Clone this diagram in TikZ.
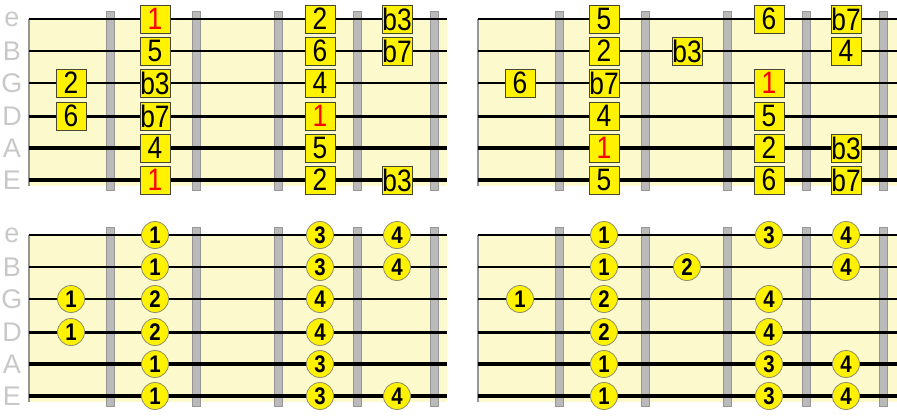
\documentclass[tikz,border=0pt]{standalone}
\usepackage{fontspec}
\setmainfont{Liberation Sans}
\newfontfamily\notefont[FakeStretch=0.85]{Liberation Sans}
\definecolor{boardbg}{RGB}{252,250,204}
\definecolor{fretgray}{RGB}{186,186,186}
\definecolor{fretedge}{RGB}{150,150,150}
\definecolor{noteedge}{RGB}{70,70,50}
\definecolor{fingeredge}{RGB}{140,140,110}
\definecolor{labelgray}{RGB}{200,200,200}

\begin{document}
\begin{tikzpicture}[x=1pt, y=-1pt,
    board/.style={fill=boardbg, draw=none},
    nutline/.style={draw=fretedge, line width=1.6pt},
    fret/.style={fill=fretgray, draw=fretedge, line width=0.8pt},
    note/.style={rectangle, draw=noteedge, fill=yellow, line width=0.8pt, minimum width=30pt, minimum height=28pt, inner sep=0pt, font=\notefont\fontsize{31}{31}\selectfont},
    finger/.style={circle, draw=fingeredge, fill=yellow, line width=0.8pt, minimum size=27pt, inner sep=0pt, font=\notefont\bfseries\fontsize{24}{24}\selectfont},
    root/.style={text=red},
    strlabel/.style={text=labelgray, inner sep=0pt, font=\fontsize{27}{27}\selectfont}]

    \useasboundingbox (0,0) rectangle (897,418);

    % Draw boards
    \fill[board] (29,19) rectangle (447,186);
    \fill[board] (478,19) rectangle (897,186);
    \fill[board] (29,235) rectangle (447,402);
    \fill[board] (478,235) rectangle (897,402);
    \draw[nutline] (29,19) -- (29,186);
    \draw[nutline] (478,19) -- (478,186);
    \draw[nutline] (29,235) -- (29,402);
    \draw[nutline] (478,235) -- (478,402);

    % Draw frets
    \draw[fret] (106,11) rectangle (114,190) (192,11) rectangle (200,190) (274,11) rectangle (282,190) (353,11) rectangle (361,190) (430,11) rectangle (438,190);
    \draw[fret] (555,11) rectangle (563,190) (641,11) rectangle (649,190) (723,11) rectangle (731,190) (802,11) rectangle (810,190) (879,11) rectangle (887,190);
    \draw[fret] (106,227) rectangle (114,406) (192,227) rectangle (200,406) (274,227) rectangle (282,406) (353,227) rectangle (361,406) (430,227) rectangle (438,406);
    \draw[fret] (555,227) rectangle (563,406) (641,227) rectangle (649,406) (723,227) rectangle (731,406) (802,227) rectangle (810,406) (879,227) rectangle (887,406);

    % Draw strings
    \draw[line width=2.0pt] (29,19) -- (447,19);
    \draw[line width=2.3pt] (29,51) -- (447,51);
    \draw[line width=2.7pt] (29,83) -- (447,83);
    \draw[line width=3.0pt] (29,116) -- (447,116);
    \draw[line width=3.6pt] (29,148) -- (447,148);
    \draw[line width=4.6pt] (29,180) -- (447,180);
    \draw[line width=2.0pt] (478,19) -- (897,19);
    \draw[line width=2.3pt] (478,51) -- (897,51);
    \draw[line width=2.7pt] (478,83) -- (897,83);
    \draw[line width=3.0pt] (478,116) -- (897,116);
    \draw[line width=3.6pt] (478,148) -- (897,148);
    \draw[line width=4.6pt] (478,180) -- (897,180);
    \draw[line width=2.0pt] (29,235) -- (447,235);
    \draw[line width=2.3pt] (29,267) -- (447,267);
    \draw[line width=2.7pt] (29,299) -- (447,299);
    \draw[line width=3.0pt] (29,332) -- (447,332);
    \draw[line width=3.6pt] (29,364) -- (447,364);
    \draw[line width=4.6pt] (29,396) -- (447,396);
    \draw[line width=2.0pt] (478,235) -- (897,235);
    \draw[line width=2.3pt] (478,267) -- (897,267);
    \draw[line width=2.7pt] (478,299) -- (897,299);
    \draw[line width=3.0pt] (478,332) -- (897,332);
    \draw[line width=3.6pt] (478,364) -- (897,364);
    \draw[line width=4.6pt] (478,396) -- (897,396);

    % String names
    \node (Ale) at (12,19) [strlabel] {e};
    \node (AlB) at (12,51) [strlabel] {B};
    \node (AlG) at (12,83) [strlabel] {G};
    \node (AlD) at (12,116) [strlabel] {D};
    \node (AlA) at (12,148) [strlabel] {A};
    \node (AlE) at (12,180) [strlabel] {E};
    \node (Cle) at (12,235) [strlabel] {e};
    \node (ClB) at (12,267) [strlabel] {B};
    \node (ClG) at (12,299) [strlabel] {G};
    \node (ClD) at (12,332) [strlabel] {D};
    \node (ClA) at (12,364) [strlabel] {A};
    \node (ClE) at (12,396) [strlabel] {E};

    % Scale degrees, first shape
    \node (Ae1) at (155,19) [note, root] {1};
    \node (Ae3) at (320,19) [note] {2};
    \node (Ae4) at (397,19) [note] {b3};
    \node (AB1) at (155,51) [note] {5};
    \node (AB3) at (320,51) [note] {6};
    \node (AB4) at (397,51) [note] {b7};
    \node (AG0) at (71,83) [note] {2};
    \node (AG1) at (155,83) [note] {b3};
    \node (AG3) at (320,83) [note] {4};
    \node (AD0) at (71,116) [note] {6};
    \node (AD1) at (155,116) [note] {b7};
    \node (AD3) at (320,116) [note, root] {1};
    \node (AA1) at (155,148) [note] {4};
    \node (AA3) at (320,148) [note] {5};
    \node (AE1) at (155,180) [note, root] {1};
    \node (AE3) at (320,180) [note] {2};
    \node (AE4) at (397,180) [note] {b3};

    % Scale degrees, second shape
    \node (Be1) at (604,19) [note] {5};
    \node (Be3) at (769,19) [note] {6};
    \node (Be4) at (846,19) [note] {b7};
    \node (BB1) at (604,51) [note] {2};
    \node (BB2) at (687,51) [note] {b3};
    \node (BB4) at (846,51) [note] {4};
    \node (BG0) at (520,83) [note] {6};
    \node (BG1) at (604,83) [note] {b7};
    \node (BG3) at (769,83) [note, root] {1};
    \node (BD1) at (604,116) [note] {4};
    \node (BD3) at (769,116) [note] {5};
    \node (BA1) at (604,148) [note, root] {1};
    \node (BA3) at (769,148) [note] {2};
    \node (BA4) at (846,148) [note] {b3};
    \node (BE1) at (604,180) [note] {5};
    \node (BE3) at (769,180) [note] {6};
    \node (BE4) at (846,180) [note] {b7};

    % Fingering, first shape
    \node (Ce1) at (155,235) [finger] {1};
    \node (Ce3) at (320,235) [finger] {3};
    \node (Ce4) at (397,235) [finger] {4};
    \node (CB1) at (155,267) [finger] {1};
    \node (CB3) at (320,267) [finger] {3};
    \node (CB4) at (397,267) [finger] {4};
    \node (CG0) at (71,299) [finger] {1};
    \node (CG1) at (155,299) [finger] {2};
    \node (CG3) at (320,299) [finger] {4};
    \node (CD0) at (71,332) [finger] {1};
    \node (CD1) at (155,332) [finger] {2};
    \node (CD3) at (320,332) [finger] {4};
    \node (CA1) at (155,364) [finger] {1};
    \node (CA3) at (320,364) [finger] {3};
    \node (CE1) at (155,396) [finger] {1};
    \node (CE3) at (320,396) [finger] {3};
    \node (CE4) at (397,396) [finger] {4};

    % Fingering, second shape
    \node (De1) at (604,235) [finger] {1};
    \node (De3) at (769,235) [finger] {3};
    \node (De4) at (846,235) [finger] {4};
    \node (DB1) at (604,267) [finger] {1};
    \node (DB2) at (687,267) [finger] {2};
    \node (DB4) at (846,267) [finger] {4};
    \node (DG0) at (520,299) [finger] {1};
    \node (DG1) at (604,299) [finger] {2};
    \node (DG3) at (769,299) [finger] {4};
    \node (DD1) at (604,332) [finger] {2};
    \node (DD3) at (769,332) [finger] {4};
    \node (DA1) at (604,364) [finger] {1};
    \node (DA3) at (769,364) [finger] {3};
    \node (DA4) at (846,364) [finger] {4};
    \node (DE1) at (604,396) [finger] {1};
    \node (DE3) at (769,396) [finger] {3};
    \node (DE4) at (846,396) [finger] {4};
\end{tikzpicture}
\end{document}
